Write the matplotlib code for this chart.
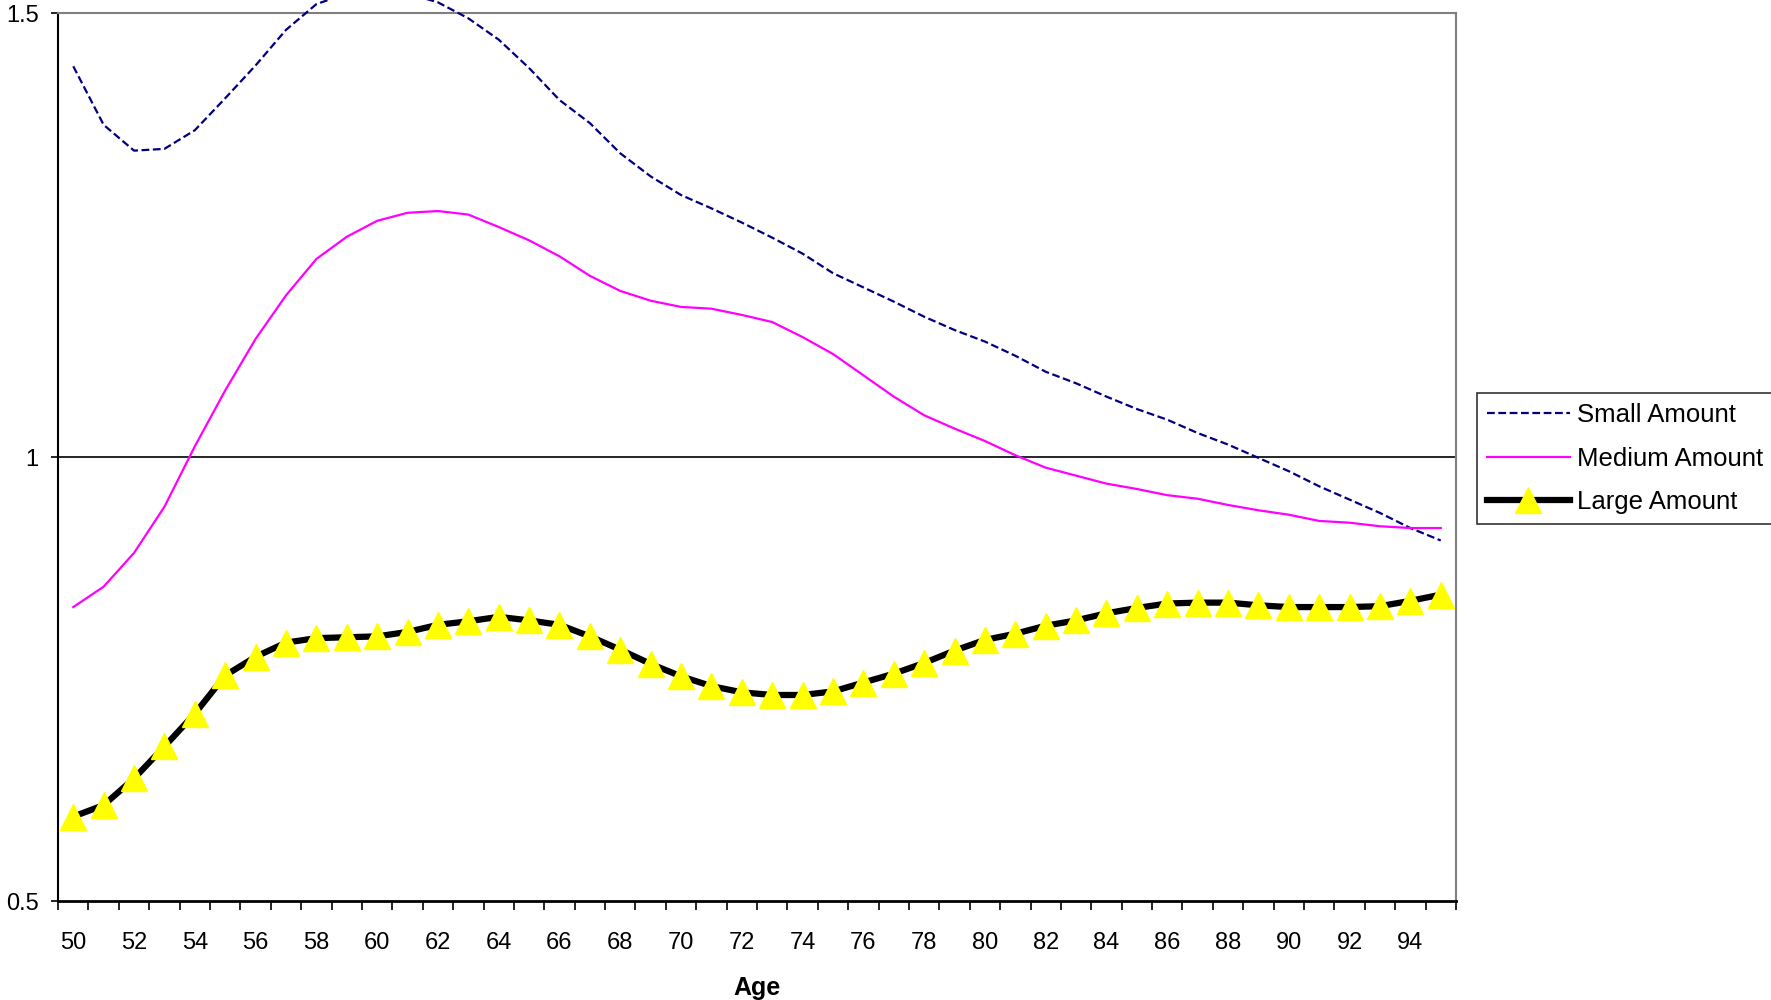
import matplotlib
matplotlib.use("Agg")
import matplotlib.pyplot as plt
import numpy as np

plt.rcParams['font.family'] = ['Liberation Sans', 'DejaVu Sans']

# ages on the category axis
ages = list(range(50, 96))

small = [1.440, 1.374, 1.345, 1.347, 1.368, 1.404, 1.441, 1.481, 1.510, 1.522,
         1.527, 1.522, 1.512, 1.494, 1.470, 1.438, 1.402, 1.376, 1.342, 1.316,
         1.295, 1.280, 1.264, 1.247, 1.229, 1.207, 1.191, 1.175, 1.158, 1.143,
         1.130, 1.114, 1.096, 1.083, 1.068, 1.054, 1.042, 1.027, 1.014, 0.999,
         0.984, 0.967, 0.952, 0.937, 0.920, 0.906]

medium = [0.831, 0.854, 0.892, 0.944, 1.012, 1.075, 1.133, 1.182, 1.223, 1.248,
          1.266, 1.275, 1.277, 1.273, 1.259, 1.244, 1.226, 1.204, 1.187, 1.176,
          1.169, 1.167, 1.160, 1.152, 1.135, 1.116, 1.092, 1.068, 1.047, 1.032,
          1.018, 1.002, 0.988, 0.979, 0.970, 0.964, 0.957, 0.953, 0.946, 0.940,
          0.935, 0.928, 0.926, 0.922, 0.920, 0.920]

large = [0.595, 0.608, 0.638, 0.674, 0.711, 0.754, 0.775, 0.791, 0.796, 0.797,
         0.798, 0.803, 0.811, 0.815, 0.820, 0.816, 0.811, 0.798, 0.783, 0.767,
         0.753, 0.742, 0.735, 0.732, 0.732, 0.736, 0.746, 0.756, 0.768, 0.782,
         0.794, 0.801, 0.810, 0.816, 0.824, 0.830, 0.835, 0.836, 0.836, 0.833,
         0.831, 0.831, 0.831, 0.832, 0.838, 0.845]

tick_ages = list(range(50, 95, 2))

fig = plt.figure(figsize=(17.71, 10), dpi=100)
ax = fig.add_axes([0.0328, 0.099, 0.7893, 0.888])

ax.axhline(1.0, color='black', lw=1.2, zorder=1)

ax.plot(ages, small, color='#000080', lw=1.6, dashes=(3.5, 1.6),
        label='Small Amount', clip_on=False, zorder=3)
ax.plot(ages, medium, color='#ff00ff', lw=1.6, label='Medium Amount', zorder=3)
ax.plot(ages, large, color='black', lw=4.5, marker='^', markersize=19,
        markerfacecolor='#ffff00', markeredgecolor='#ffff00',
        label='Large Amount', zorder=4)

ax.set_xlim(49.5, 95.5)
ax.set_ylim(0.5, 1.5)

ax.set_xticks(tick_ages)
ax.set_xticklabels([str(a) for a in tick_ages])
ax.set_xticks(np.arange(49.5, 96, 1.0), minor=True)
ax.tick_params(axis='x', which='major', length=0, pad=22, labelsize=17)
ax.tick_params(axis='x', which='minor', length=6.5, width=1.2, direction='out')

ax.set_yticks([0.5, 1.0, 1.5])
ax.set_yticklabels(['0.5', '1', '1.5'])
ax.tick_params(axis='y', length=5, width=1.2, direction='out', pad=9, labelsize=17)

ax.spines['left'].set_color('black')
ax.spines['left'].set_linewidth(1.5)
ax.spines['bottom'].set_color('black')
ax.spines['bottom'].set_linewidth(2)
ax.spines['top'].set_color('#808080')
ax.spines['top'].set_linewidth(1.5)
ax.spines['right'].set_color('#808080')
ax.spines['right'].set_linewidth(1.5)

ax.set_xlabel('Age', fontsize=18, fontweight='bold', labelpad=16)

leg = fig.legend(loc='upper left', bbox_to_anchor=(0.834, 0.607),
                 borderaxespad=0, fontsize=18.5, frameon=True, fancybox=False,
                 edgecolor='black', handlelength=3.2, handletextpad=0.3,
                 labelspacing=0.75, borderpad=0.4)
leg.get_frame().set_linewidth(1.2)

fig.savefig('out.png', dpi=100)
